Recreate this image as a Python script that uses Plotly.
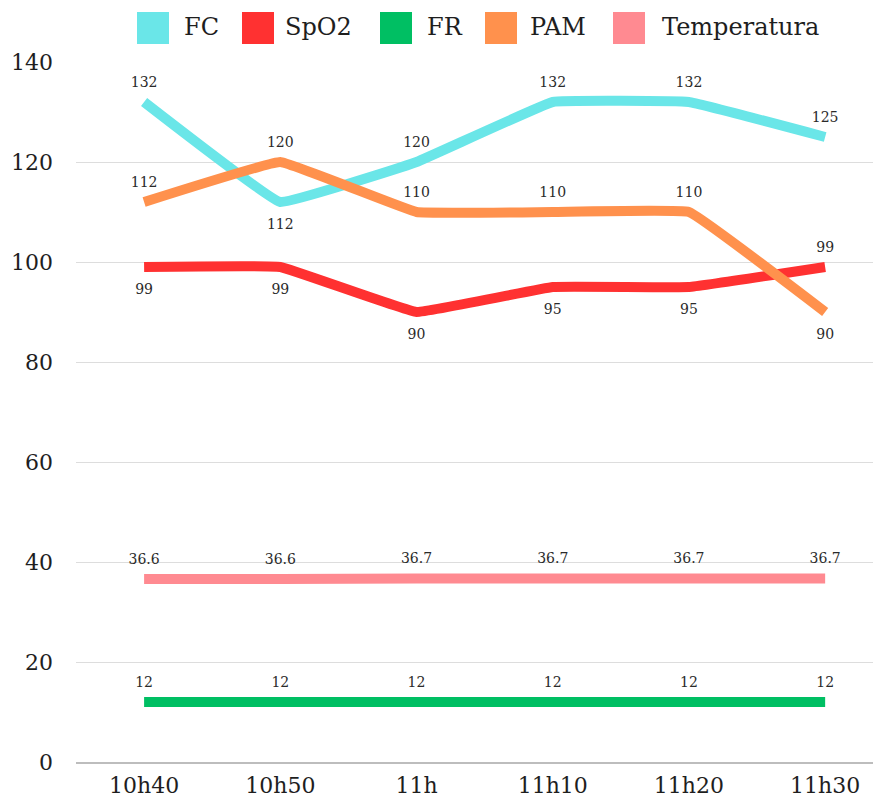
import plotly.graph_objects as go

categories = ["10h40", "10h50", "11h", "11h10", "11h20", "11h30"]
fc = [132, 112, 120, 132, 132, 125]
spo2 = [99, 99, 90, 95, 95, 99]
fr = [12, 12, 12, 12, 12, 12]
pam = [112, 120, 110, 110, 110, 90]
temperatura = [36.6, 36.6, 36.7, 36.7, 36.7, 36.7]

series = [
    ("FC", fc, "#6ae6e8", ["top center", "bottom center", "top center", "top center", "top center", "top center"]),
    ("SpO2", spo2, "#ff3131", ["bottom center"] * 5 + ["top center"]),
    ("FR", fr, "#00bf63", ["top center"] * 6),
    ("PAM", pam, "#ff914d", ["top center"] * 5 + ["bottom center"]),
    ("Temperatura", temperatura, "#ff8a91", ["top center"] * 6),
]

FONT = "DejaVu Serif"
W, H = 873, 797
L, R, T, B = 68, 0, 54, 43
OFF = 8  # page body margin
PL = L + OFF
PW = W - L - R
PT = T + OFF
PH = H - T - B

def px(x):
    return (x - PL) / PW

def py(y):
    return (PT + PH - y) / PH

fig = go.Figure()
for name, vals, color, pos in series:
    sizes = [17 if p.startswith("top") else 24 for p in pos]
    fig.add_trace(go.Scatter(
        x=categories, y=vals, mode="lines+markers+text", name=name,
        line=dict(color=color, width=10, shape="spline", smoothing=0.2),
        marker=dict(size=sizes, opacity=0),
        text=[str(v) for v in vals], textposition=pos,
        textfont=dict(family=FONT, size=14, color="#2a2a2a"),
        showlegend=False, cliponaxis=False,
    ))

# custom legend (big squares)
sq_left = [137, 242, 380, 485, 613]
txt_left = [182, 283, 425, 528, 660]
shapes, annots = [], []
for (name, vals, color, pos), sx, tx in zip(series, sq_left, txt_left):
    shapes.append(dict(type="rect", xref="paper", yref="paper",
                       x0=px(sx), x1=px(sx + 32), y0=py(44), y1=py(12),
                       fillcolor=color, line=dict(width=0)))
    annots.append(dict(xref="paper", yref="paper", x=px(tx), y=py(27),
                       xanchor="left", yanchor="middle", showarrow=False,
                       text=name, font=dict(family=FONT, size=24, color="#1e1e1e")))

fig.update_layout(
    width=W, height=H,
    margin=dict(l=L, r=R, t=T, b=B),
    paper_bgcolor="white", plot_bgcolor="white",
    font=dict(family=FONT, color="#222222"),
    showlegend=False,
    shapes=shapes, annotations=annots,
    xaxis=dict(type="category", range=[-0.5, 5.41], showgrid=False,
               showline=True, linecolor="#bdbdbd", linewidth=2,
               tickfont=dict(family=FONT, size=22, color="#1e1e1e"), ticks="", ticklabelstandoff=3),
    yaxis=dict(range=[0, 140], dtick=20, showgrid=True, gridcolor="#dddddd", gridwidth=1,
               zeroline=False, showline=False,
               tickfont=dict(family=FONT, size=22, color="#1e1e1e"), ticks="", ticklabelstandoff=22),
)
fig.write_html("out.html")
